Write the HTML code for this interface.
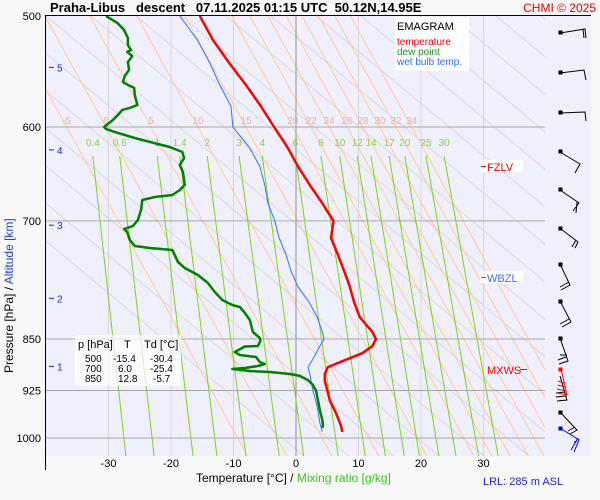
<!DOCTYPE html>
<html><head><meta charset="utf-8"><style>
body{margin:0;background:#f8f8f8;font-family:"Liberation Sans",sans-serif;}
svg{display:block}
</style></head><body>
<svg id="chart" width="600" height="500" xmlns="http://www.w3.org/2000/svg">
<rect x="0" y="0" width="600" height="500" fill="#f8f8f8"/>
<rect x="46" y="16" width="545" height="440" fill="#f0f0fc"/>
<g id="bg"></g>
<g id="series"></g>
<g id="barbs" stroke="#000" stroke-width="1" fill="none">
<path d="M560,33 L585,29 L586,38 M583,29 L584,38"/>
<path d="M560,73 L584,70 L586,80"/>
<path d="M560,113 L585,112 L586,121"/>
<path d="M560,152 L580,164 L575,173"/>
<path d="M560,190 L579,203 L573,211 M577,202 L576,213"/>
<path d="M561,229 L578,242 L575,248 M576,240 L572,247"/>
<path d="M560,264 L570,285 L561,290 M569,282 L560,287"/>
<path d="M560,301 L571,322 L562,327 M569,319 L560,324"/>
<path d="M560,338 L568,361 L559,364 M566,357 L558,360 M567,355 L560,355"/>
<path d="M560,376 L567,400 L557,401 M566,396 L556,397 M565,392 L556,393"/>
<path d="M561,369 L567,395 L557,393 M566,391 L557,389 M565,387 L558,385 M564,383 L558,381" stroke="#f00"/>
<path d="M560,412 L577,430 L570,434 M575,427 L568,431"/>
<path d="M560,428 L579,440 L574,452 M578,438 L571,450 M577,441 L574,442" stroke="#00f"/>
<rect x="559" y="31" width="3" height="3" fill="#000"/><rect x="559" y="71" width="3" height="3" fill="#000"/><rect x="559" y="111" width="3" height="3" fill="#000"/><rect x="559" y="150" width="3" height="3" fill="#000"/><rect x="559" y="188" width="3" height="3" fill="#000"/><rect x="559" y="227" width="3" height="3" fill="#000"/><rect x="559" y="263" width="3" height="3" fill="#000"/><rect x="559" y="300" width="3" height="3" fill="#000"/><rect x="559" y="337" width="3" height="3" fill="#000"/><rect x="559" y="368" width="3" height="3" fill="#f00" stroke="#f00"/><rect x="559" y="411" width="3" height="3" fill="#000"/><rect x="559" y="427" width="3" height="3" fill="#00f" stroke="#00f"/>
</g>
<line x1="45.5" y1="15" x2="45.5" y2="470" stroke="#000"/>
<line x1="46" y1="15.5" x2="591" y2="15.5" stroke="#000"/>
<text x="50" y="12" font-size="13" font-weight="bold" xml:space="preserve">Praha-Libus   descent   07.11.2025 01:15 UTC  50.12N,14.95E</text>
<text x="596" y="12" font-size="12" fill="#e00" text-anchor="end">CHMI © 2025</text>
<g id="overlays">
<g>
<rect x="395" y="17" width="74" height="54" fill="#fff" opacity="0.85"/>
<text x="397" y="30" font-size="11">EMAGRAM</text>
<text x="397" y="45" font-size="10" fill="#f00">temperature</text>
<text x="397" y="55" font-size="10" fill="#1a9a1a">dew point</text>
<text x="397" y="65" font-size="10" fill="#3070ff">wet bulb temp.</text>
</g>
<g font-size="11">
<rect x="75" y="335" width="106" height="51" fill="#fff" opacity="0.7"/>
<text x="78" y="348">p [hPa]</text><text x="124" y="348">T</text><text x="144" y="348">Td [°C]</text>
<text x="85" y="362" font-size="10">500</text><text x="113" y="362" font-size="10">-15.4</text><text x="150" y="362" font-size="10">-30.4</text>
<text x="85" y="372" font-size="10">700</text><text x="118" y="372" font-size="10">6.0</text><text x="150" y="372" font-size="10">-25.4</text>
<text x="85" y="382" font-size="10">850</text><text x="118" y="382" font-size="10">12.8</text><text x="153" y="382" font-size="10">-5.7</text>
</g>
<g font-size="11">
<rect x="480" y="160" width="43" height="12" fill="#fff"/><line x1="481" y1="166.5" x2="486" y2="166.5" stroke="#f00"/><text x="487" y="171" fill="#f00">FZLV</text>
<rect x="480" y="271" width="43" height="12" fill="#fff"/><line x1="481" y1="277.5" x2="486" y2="277.5" stroke="#3070ff"/><text x="487" y="282" fill="#3070ff">WBZL</text>
<text x="487" y="374" fill="#f00">MXWS</text><line x1="520" y1="369.5" x2="527" y2="369.5" stroke="#f00"/>
</g>
</g>
<g transform="translate(13,440) rotate(-90)" font-size="12">
<text x="67" y="0">Pressure [hPa]  / <tspan fill="#2040e0">Altitude [km]</tspan></text>
</g>
<text x="196" y="482" font-size="12">Temperature [°C]  /  <tspan fill="#40c020">Mixing ratio [g/kg]</tspan></text>
<text x="483" y="485" font-size="11" fill="#2020e0">LRL: 285 m ASL</text>
</svg>
<script>
var pressureTicks=[500,600,700,850,925,1000];
var tempTicks=[-30,-20,-10,0,10,20,30];
var altKm=[5,4,3,2,1];
var altPress=[544,623,705,795,889];
var satLabels=[-5,0,5,10,15,20,22,24,26,28,30,32,34];
var satTemp600=[-36.7,-30.4,-23.2,-15.7,-8.0,-0.5,2.4,5.3,8.2,10.7,13.4,16.0,18.5];
var mixLabels=["0.4","0.6","1","1.4","2","3","4","6","8","10","12","14","17","20","25","30"];
var mixTempTop=[-32.5,-28.2,-22.2,-18.6,-14.2,-9.1,-5.4,-0.1,4.0,7.0,9.8,12.0,14.9,17.4,20.8,23.7];
var tempP=[500,520,540,560,580,600,620,640,660,680,700,720,740,760,780,800,820,840,850,860,870,880,890,900,910,925,940,960,980,990];
var tempT=[-15.4,-13.3,-10.7,-8.0,-5.6,-3.5,-1.4,0.3,2.2,4.2,6.0,5.6,6.7,7.7,8.6,9.3,10.2,12.2,12.8,12.2,10.6,7.8,5.1,4.6,4.6,5.0,5.4,6.4,7.2,7.4];
var dewP=[500,501,505.7,511.6,518.4,524.4,528.7,530.4,534,539.2,546.3,551.7,557.2,559.9,562.7,569.2,578.7,581.5,583.4,588.2,593.1,600,601.9,604.9,610.9,614.9,620,625.1,631.3,638.6,646,659.9,665.4,670.9,673.1,676.4,687.6,699,705.9,709.4,712.9,722.3,729.5,731.9,734.3,748.9,756.3,765.1,775.2,786.8,797.2,803.7,806.4,813,823.7,840.2,848.5,852.7,859.8,860.5,868.2,872.5,875.4,882.6,885.5,888.4,891.4,892.8,895.8,897.3,900.2,903.1,909.1,916.6,925,939.5,955,970.9,978.9,983.7];
var dewT=[-30.4,-30.1,-28.6,-27.5,-26.9,-26.9,-26.4,-27.0,-26.2,-26.9,-26.7,-27.4,-27.7,-26.9,-25.9,-25.8,-25.4,-26.6,-27.8,-28.5,-29.3,-30.7,-30.4,-29.0,-25.8,-23.4,-20.2,-18.2,-17.9,-18.6,-18.1,-17.8,-18.6,-19.8,-22.6,-24.6,-24.8,-25.3,-26.1,-27.5,-27.0,-26.6,-25.8,-23.4,-19.8,-18.9,-17.8,-15.7,-14.1,-13.0,-11.8,-10.2,-9.0,-8.3,-7.4,-6.9,-5.8,-5.7,-6.1,-8.2,-9.8,-9.0,-6.4,-5.8,-5.0,-6.1,-8.2,-10.2,-7.4,-4.2,-1.0,0.6,1.9,2.7,3.2,3.5,3.8,4.2,4.3,4.2];
var wbP=[500,520,540,560,580,600,620,640,660,680,700,720,740,760,780,800,820,840,850,860,870,880,890,900,925,950,975,990];
var wbT=[-18.6,-15.8,-13.8,-12.2,-10.4,-10.1,-7.5,-5.8,-5.0,-4.5,-3.4,-2.7,-1.6,-0.8,0.3,2.1,3.4,4.2,4.5,3.8,3.2,2.6,1.9,2.2,2.7,3.4,3.8,4.2];

var NS='http://www.w3.org/2000/svg';
function xS(t){return 296+6.25*t;}
function yS(p){return 438-608.8*Math.log(1000/p);}
function mk(tag,attrs,parent){var e=document.createElementNS(NS,tag);for(var k in attrs)e.setAttribute(k,attrs[k]);parent.appendChild(e);return e;}
var bg=document.getElementById('bg'), ser=document.getElementById('series');
var L=46,R=545,T=16,B=456;
var cp=mk('clipPath',{id:'pc'},bg);mk('rect',{x:L,y:T,width:R-L,height:B-T},cp);
var cg=mk('g',{'clip-path':'url(#pc)'},bg);
for(var i=-6;i<14;i++){var x0=L+i*45;var a=mk('line',{x1:x0,y1:T,x2:x0+1.2*(B-T),y2:B,stroke:'#dadada','stroke-width':1},cg);

}
for(var i=0;i<satTemp600.length;i++){var xm=xS(satTemp600[i]),ym=yS(600);var s=0.55;
var l=mk('line',{x1:xm-s*(ym-T),y1:T,x2:xm+s*(B-ym),y2:B,stroke:'#ffcc99','stroke-width':1},cg);


var tx=mk('text',{x:xm,y:ym-3,'font-size':10,fill:'#f0b0a0','text-anchor':'middle'},bg);tx.textContent=satLabels[i];

}
for(var i=0;i<tempTicks.length;i++){var x=xS(tempTicks[i]);
var g=mk('line',{x1:x,y1:T,x2:x,y2:B,stroke:tempTicks[i]==0?'#909090':'#d8d8d8','stroke-width':1},cg);


var t=mk('text',{x:x,y:467,'font-size':11,'text-anchor':'middle'},bg);t.textContent=tempTicks[i];

}
for(var i=0;i<mixTempTop.length;i++){var xt=xS(mixTempTop[i]);var s=0.11+0.07*i/(mixTempTop.length-1);
var m=mk('line',{x1:xt,y1:156,x2:xt+s*(B-156),y2:B,stroke:'#80d020','stroke-width':1},cg);


var mt=mk('text',{x:xt,y:146,'font-size':10,fill:'#90d040','text-anchor':'middle'},bg);mt.textContent=mixLabels[i];

}
for(var i=0;i<pressureTicks.length;i++){var y=yS(pressureTicks[i]);
if(pressureTicks[i]!=500){var pl=mk('line',{x1:L,y1:y,x2:R,y2:y,stroke:'#a8a8a8','stroke-width':1},bg);

}
var pt=mk('text',{x:41,y:y+4,'font-size':11,'text-anchor':'end'},bg);pt.textContent=pressureTicks[i];

}
for(var i=0;i<altKm.length;i++){var y=yS(altPress[i]);
mk('line',{x1:49,y1:y,x2:54,y2:y,stroke:'#2020e0'},bg);
var at=mk('text',{x:57,y:y+4,'font-size':10,fill:'#2020e0'},bg);at.textContent=altKm[i];

}
function line(P,Tv,col,w,name){var d='';for(var i=0;i<P.length;i++){d+=(i?'L':'M')+xS(Tv[i]).toFixed(1)+','+yS(P[i]).toFixed(1);}
var e=mk('path',{d:d,stroke:col,'stroke-width':w,fill:'none','stroke-linejoin':'round'},ser);

}
line(wbP,wbT,'#3070ff',1,'wet-bulb-line');
line(dewP,dewT,'#008000',2.5,'dew-point-line');
line(tempP,tempT,'#ff0000',2.5,'temperature-line');
</script>
</body></html>
